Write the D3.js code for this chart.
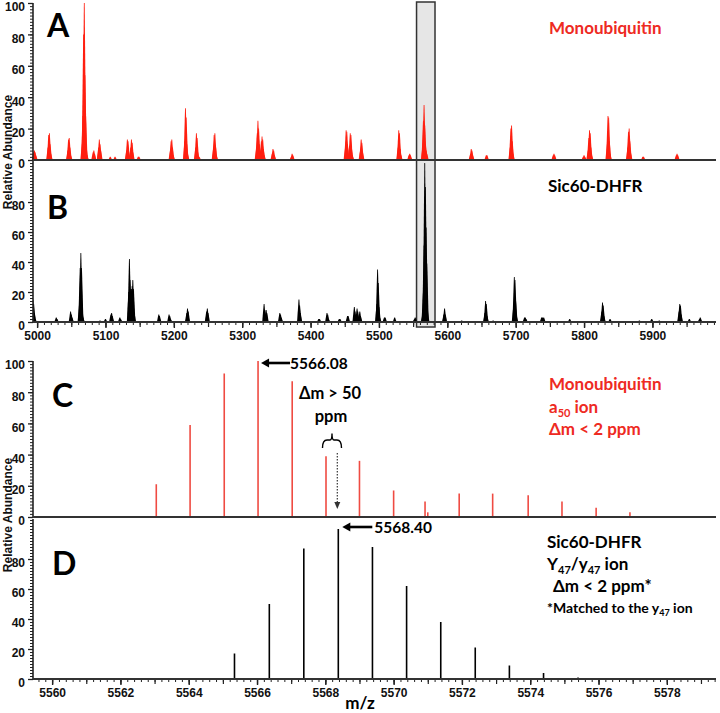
<!DOCTYPE html>
<html><head><meta charset="utf-8">
<script src="https://cdn.jsdelivr.net/npm/d3@7/dist/d3.min.js"></script>
<style>
html,body{margin:0;padding:0;background:#fff;}
svg{display:block;}
.tick text{font-family:"Liberation Sans",Arial,sans-serif;font-weight:bold;font-size:12px;fill:#111;}
</style></head>
<body>
<svg id="chart" width="720" height="713"></svg>
<script>
// ---------- DATA ----------
// Panel A: Monoubiquitin full-range spectrum [m/z, relative abundance]
const spectrumA = [
 [4995,5],[4996,6],[4997,5],[4998,3],
 [5016,8],[5017,16],[5018,17],[5019,10],[5020,4],
 [5045,6],[5046,13],[5047,14],[5048,8],[5049,3],
 [5066,10],[5067,28],[5068,80],[5069,100],[5070,54],[5071,28],[5072,8],[5073,3],
 [5082,5],[5083,6],[5084,4],
 [5090,8],[5091,13],[5092,10],[5093,6],
 [5107,2],[5114,2],
 [5131,6],[5132,13],[5133,12],[5134,5],[5137,8],[5138,13],[5139,11],[5140,5],
 [5148,2],[5149,2],
 [5195,6],[5196,12],[5197,13],[5198,8],[5199,3],
 [5216,12],[5217,33],[5218,27],[5219,10],[5220,4],
 [5232,8],[5233,17],[5234,14],[5235,5],[5237,2],
 [5258,7],[5259,16],[5260,17],[5261,9],[5262,3],
 [5321,8],[5322,17],[5323,25],[5324,20],[5325,10],[5327,6],[5328,12],[5329,15],[5330,13],[5331,7],[5332,3],
 [5344,4],[5345,7],[5346,6],[5347,3],
 [5372,2],[5373,4],[5374,3],
 [5451,8],[5452,19],[5453,18],[5454,10],[5457,9],[5458,17],[5459,16],[5460,7],[5461,3],
 [5473,6],[5474,13],[5475,11],[5476,5],
 [5528,8],[5529,19],[5530,17],[5531,7],[5532,3],
 [5544,3],[5545,4],[5546,3],
 [5564,8],[5565,25],[5566,35],[5567,22],[5568,10],[5569,6],[5570,4],
 [5634,4],[5635,7],[5636,6],[5637,3],
 [5657,3],[5658,3],
 [5692,8],[5693,20],[5694,22],[5695,12],[5696,4],
 [5755,3],[5756,4],[5757,3],
 [5799,2],[5800,3],[5801,2],[5806,6],[5807,14],[5808,19],[5809,17],[5810,8],[5811,3],
 [5834,10],[5835,28],[5836,27],[5837,12],[5838,4],
 [5864,8],[5865,18],[5866,20],[5867,12],[5868,5],
 [5886,2],[5887,2],
 [5935,3],[5936,4],[5937,3]
];
// Panel B: Sic60-DHFR full-range spectrum
const spectrumB = [
 [4994,15],[4995,12],[4996,6],[4997,2],
 [5028,3],[5029,2],
 [5049,7],[5050,5],[5051,3],
 [5062,12],[5063,36],[5064,46],[5065,36],[5066,7],[5067,3],
 [5092,1],[5100,2],
 [5108,5],[5109,6],[5110,4],
 [5121,3],[5122,2],
 [5134,20],[5135,42],[5136,28],[5137,22],[5138,22],[5139,24],[5140,28],[5141,22],[5142,6],
 [5178,5],[5179,4],
 [5193,5],[5194,4],[5195,2],
 [5219,6],[5220,9],[5221,7],
 [5248,7],[5249,9],[5250,6],
 [5332,12],[5333,8],[5334,5],[5335,8],[5336,6],
 [5355,6],[5356,5],[5357,3],
 [5383,15],[5384,11],[5385,6],
 [5412,2],[5413,2],
 [5424,6],[5425,5],[5426,2],
 [5442,2],[5443,2],
 [5454,4],[5455,4],
 [5464,10],[5465,7],[5466,4],[5468,9],[5469,7],
 [5472,7],[5473,4],
 [5497,12],[5498,35],[5499,26],[5500,10],[5501,3],
 [5508,3],[5509,3],
 [5523,3],
 [5552,2],[5553,3],
 [5564,5],[5565,20],[5566,51],[5567,106],[5568,90],[5569,63],[5570,39],[5571,8],
 [5595,5],[5596,9],[5597,5],
 [5621,1],
 [5655,6],[5656,14],[5657,12],[5658,4],
 [5667,1],
 [5697,10],[5698,30],[5699,28],[5700,14],[5701,4],
 [5713,3],[5714,3],[5715,2],
 [5738,3],[5739,3],[5741,3],
 [5779,2],
 [5826,7],[5827,13],[5828,11],[5829,4],
 [5838,2],
 [5881,1],
 [5899,2],
 [5910,1],
 [5939,7],[5940,12],[5941,11],[5942,5],
 [5954,2],
 [5969,2],[5970,3],[5971,1]
];
// Panel C: Monoubiquitin a50 ion isotope sticks
const sticksC = [
 [5563.05,21],[5564.04,59],[5565.04,92],[5566.03,100],[5567.03,87],[5568.02,39],
 [5569.00,36],[5570.00,17],[5570.92,10],[5571.00,3],[5571.92,15],[5572.90,15],
 [5573.94,14],[5574.93,10],[5575.93,6],[5576.92,3]
];
// Panel D: Sic60-DHFR Y47/y47 isotope sticks
const sticksD = [
 [5565.34,17],[5566.36,50],[5567.37,87],[5568.38,100],[5569.38,88],[5570.38,62],
 [5571.38,38],[5572.39,21],[5573.39,9],[5574.39,4],[5575.40,1]
];
// Axis ticks
const wideTicks = [5000,5100,5200,5300,5400,5500,5600,5700,5800,5900];
const zoomTicks = [5560,5562,5564,5566,5568,5570,5572,5574,5576,5578];
const yTicksFull = [0,20,40,60,80,100];
const yTicksCut = [0,20,40,60,80];
const highlightRange = [5555,5582];

// ---------- LAYOUT ----------
const svg = d3.select("#chart");
const L = 33, R = 716;
const red = "#ff1f10", redText = "#ee2a22", redStick = "#ef4b42", axisCol = "#222";

const xWide = d3.scaleLinear().domain([4994, 5993]).range([L, R]);
const xZoom = d3.scaleLinear().domain([5559.44, 5579.44]).range([L, R]);
const yA = d3.scaleLinear().domain([0, 100]).range([160, 3]);
const yB = d3.scaleLinear().domain([0, 106.7]).range([322, 162]);
const yC = d3.scaleLinear().domain([0, 100]).range([517, 361]);
const yD = d3.scaleLinear().domain([0, 106]).range([679, 520]);

const defs = svg.append("defs");
defs.append("clipPath").attr("id","clipB").append("rect").attr("x",L).attr("y",162).attr("width",R-L).attr("height",165);

// highlight box
svg.append("rect")
  .attr("x", xWide(highlightRange[0])).attr("y", 2)
  .attr("width", xWide(highlightRange[1]) - xWide(highlightRange[0]))
  .attr("height", 325)
  .attr("fill", "#e6e6e6").attr("stroke", "#333").attr("stroke-width", 1.5);

function spikes(g, data, x, y, color, hw) {
  g.selectAll("path.sp").data(data).join("path").attr("class","sp")
    .attr("d", d => {
      const cx = x(d[0]), b = y(0), t = y(d[1]);
      return `M${cx-hw},${b}L${cx-0.4},${t}L${cx+0.4},${t}L${cx+hw},${b}Z`;
    })
    .attr("fill", color);
}
spikes(svg.append("g"), spectrumA, xWide, yA, red, 1.9);
spikes(svg.append("g").attr("clip-path","url(#clipB)"), spectrumB, xWide, yB, "#000", 1.9);

function sticks(g, data, x, y, color, w) {
  g.selectAll("line").data(data).join("line")
    .attr("x1", d => x(d[0])).attr("x2", d => x(d[0]))
    .attr("y1", y(0)).attr("y2", d => y(d[1]))
    .attr("stroke", color).attr("stroke-width", w);
}
sticks(svg.append("g"), sticksC, xZoom, yC, redStick, 1.6);
sticks(svg.append("g"), sticksD, xZoom, yD, "#000", 1.6);

// ---------- AXES ----------
function yAxis(scale, labelTicks, top) {
  const maxV = scale.domain()[1];
  const minor = d3.range(0, maxV + 0.01, 2);
  const g = svg.append("g").attr("transform", `translate(${L},0)`);
  g.append("g").call(d3.axisLeft(scale).tickValues(minor).tickSize(3).tickFormat("").tickSizeOuter(0))
    .call(s => s.select(".domain").remove())
    .selectAll("line").attr("stroke", axisCol).attr("stroke-width", 1);
  const major = g.append("g").call(d3.axisLeft(scale).tickValues(labelTicks).tickSize(5).tickPadding(3).tickSizeOuter(0));
  major.select(".domain").remove();
  major.selectAll("line").attr("stroke", axisCol).attr("stroke-width", 1.3);
  major.selectAll("text").attr("dy", "0.65em");
  g.append("line").attr("x1",0).attr("x2",0).attr("y1",scale(0)).attr("y2",top)
    .attr("stroke", axisCol).attr("stroke-width", 1.6);
}
yAxis(yA, yTicksFull, 3);
yAxis(yB, yTicksCut, 161);
yAxis(yC, yTicksFull, 361);
yAxis(yD, yTicksCut, 519);

function baseline(y) {
  svg.append("line").attr("x1", L).attr("x2", R).attr("y1", y).attr("y2", y)
    .attr("stroke", "#333").attr("stroke-width", 1.8);
}
baseline(yA(0)); baseline(yC(0));

function xAxis(scale, yPos, minorStep, midStep, labels) {
  const [d0, d1] = scale.domain();
  const g = svg.append("g").attr("transform", `translate(0,${yPos})`);
  const minor = d3.range(Math.ceil(d0/minorStep)*minorStep, d1, minorStep);
  const mid = d3.range(Math.ceil(d0/midStep)*midStep, d1, midStep);
  g.append("g").call(d3.axisBottom(scale).tickValues(minor).tickSize(3).tickFormat("").tickSizeOuter(0))
    .call(s => s.select(".domain").remove())
    .selectAll("line").attr("stroke", axisCol).attr("stroke-width", 1);
  g.append("g").call(d3.axisBottom(scale).tickValues(mid).tickSize(5).tickFormat("").tickSizeOuter(0))
    .call(s => s.select(".domain").remove())
    .selectAll("line").attr("stroke", axisCol).attr("stroke-width", 1.2);
  const lab = g.append("g").call(d3.axisBottom(scale).tickValues(labels).tickSize(6).tickPadding(3).tickFormat(d3.format("d")).tickSizeOuter(0));
  lab.select(".domain").remove();
  lab.selectAll("line").attr("stroke", axisCol).attr("stroke-width", 1.4);
  g.append("line").attr("x1", L).attr("x2", R).attr("stroke", "#333").attr("stroke-width", 1.8);
}
xAxis(xWide, yB(0), 10, 50, wideTicks);
xAxis(xZoom, yD(0), 0.2, 1, zoomTicks);

// ---------- TEXT ----------
const sans = "Lato, 'Open Sans', sans-serif";
function label(x, y, txt, size, color, anchor) {
  return svg.append("text").attr("x", x).attr("y", y).text(txt)
    .attr("font-family", sans).attr("font-weight", "bold")
    .attr("font-size", size).attr("fill", color || "#000")
    .attr("text-anchor", anchor || "start");
}
label(47, 37, "A", 32);
label(47, 219, "B", 32);
label(52, 407, "C", 32);
label(52, 575, "D", 32);

label(549, 34, "Monoubiquitin", 17, redText);
label(548, 192, "Sic60-DHFR", 17);

label(549, 390, "Monoubiquitin", 17, redText);
const a50 = label(549, 413, "a", 17, redText);
a50.append("tspan").attr("font-size", 11).attr("dy", 4).text("50");
a50.append("tspan").attr("dy", -4).text(" ion");
label(549, 435, "\u0394m < 2 ppm", 17, redText);

label(547, 548, "Sic60-DHFR", 17);
const y47 = label(547, 570, "Y", 17);
y47.append("tspan").attr("font-size", 11).attr("dy", 4).text("47");
y47.append("tspan").attr("dy", -4).text("/y");
y47.append("tspan").attr("font-size", 11).attr("dy", 4).text("47");
y47.append("tspan").attr("dy", -4).text(" ion");
label(553, 592, "\u0394m < 2 ppm*", 17);
const matched = label(547, 613, "*Matched to the y", 14);
matched.append("tspan").attr("font-size", 9).attr("dy", 3).text("47");
matched.append("tspan").attr("dy", -3).text(" ion");

// peak annotations
function arrowLeft(xTip, y, len) {
  svg.append("line").attr("x1", xTip + 6).attr("x2", xTip + len).attr("y1", y).attr("y2", y)
    .attr("stroke", "#000").attr("stroke-width", 2.6);
  svg.append("path").attr("d", `M${xTip},${y}L${xTip+8},${y-4.5}L${xTip+8},${y+4.5}Z`).attr("fill", "#000");
}
const xc = xZoom(sticksC[3][0]) + 3;
arrowLeft(xc, 363, 29);
label(xc + 29, 368.5, "5566.08", 15.5);
const xd = xZoom(sticksD[3][0]) + 4;
arrowLeft(xd, 527, 30);
label(xd + 32, 532.5, "5568.40", 15.5);

label(330, 399, "\u0394m > 50", 16.5, "#000", "middle");
label(331, 422, "ppm", 16.5, "#000", "middle");
svg.append("path")
  .attr("d", "M322.5,448 Q322.5,440 327,440 L330,440 Q332,440 332,433.5 Q332,440 334,440 L337,440 Q341.5,440 341.5,448")
  .attr("fill", "none").attr("stroke", "#000").attr("stroke-width", 1.4);
const xDot = xZoom(sticksD[3][0]) - 1;
svg.append("line").attr("x1", xDot).attr("x2", xDot).attr("y1", 453).attr("y2", 503)
  .attr("stroke", "#333").attr("stroke-width", 1.2).attr("stroke-dasharray", "1.5,1.5");
svg.append("path").attr("d", `M${xDot-3},502L${xDot+3},502L${xDot},509Z`).attr("fill", "#333");

// axis titles
function yTitle(cy) {
  svg.append("text").attr("transform", `translate(12,${cy}) rotate(-90)`)
    .attr("text-anchor", "middle")
    .attr("font-family", "'Liberation Sans', Arial, sans-serif").attr("font-weight", "bold")
    .attr("font-size", 12).attr("fill", "#111").text("Relative Abundance");
}
yTitle(152);
yTitle(515);
label(360, 709, "m/z", 17, "#000", "middle");
</script>
</body></html>
